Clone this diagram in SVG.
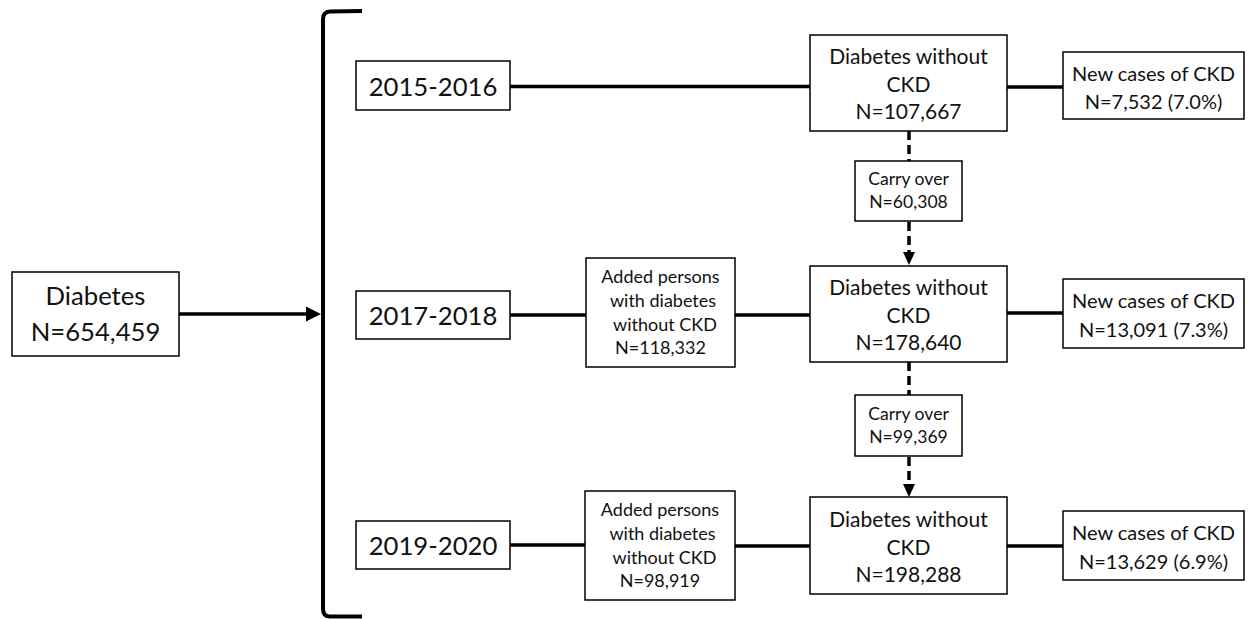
<svg xmlns="http://www.w3.org/2000/svg" width="1248" height="619" viewBox="0 0 1248 619">
<style>
.box{fill:#fff;stroke:#000;stroke-width:1.5}
.t{font-family:Lato,"Open Sans","Liberation Sans",sans-serif;fill:#111;text-anchor:middle}
.big{font-size:25.7px}
.mid{font-size:21px}
.nc{font-size:20px}
.sm{font-size:18px}
.xs{font-size:17.6px}
.ln{stroke:#000;stroke-width:3.5;fill:none}
.dash{stroke:#000;stroke-width:3.5;fill:none;stroke-dasharray:9 5}
.head{fill:#000}
</style>
<rect width="1248" height="619" fill="#fff"/>
<g id="connectors">
<line class="ln" x1="179" y1="314" x2="308" y2="314"/>
<polygon class="head" points="306,306.5 321,314 306,321.5"/>
<path class="ln" style="stroke-width:4" d="M362,11 L330,11.5 Q323,12 323,19 L323,609 Q323,616.5 330,616.5 L362,616.5"/>
<line class="ln" x1="510" y1="86.5" x2="810" y2="86.5"/>
<line class="ln" x1="1007" y1="87" x2="1063" y2="87"/>
<line class="ln" x1="510" y1="315" x2="586" y2="315"/>
<line class="ln" x1="735" y1="315" x2="810" y2="315"/>
<line class="ln" x1="1007" y1="313" x2="1063" y2="313"/>
<line class="ln" x1="510" y1="545" x2="585" y2="545"/>
<line class="ln" x1="735" y1="546" x2="810" y2="546"/>
<line class="ln" x1="1007" y1="546" x2="1063" y2="546"/>
<line class="dash" x1="909" y1="131" x2="909" y2="161"/>
<line class="dash" x1="909" y1="222" x2="909" y2="253"/>
<polygon class="head" points="903,252 909,265 915,252"/>
<line class="dash" x1="909" y1="362" x2="909" y2="395"/>
<line class="dash" x1="909" y1="457" x2="909" y2="485"/>
<polygon class="head" points="903,484 909,497 915,484"/>
</g>
<g id="diabetes">
<rect class="box" x="12" y="272" width="167" height="84"/>
<text class="t big" x="95.5" y="305">Diabetes</text>
<text class="t big" x="95.5" y="341">N=654,459</text>
</g>
<g id="y2015">
<rect class="box" x="356" y="61" width="154" height="49"/>
<text class="t big" x="433" y="96">2015-2016</text>
</g>
<g id="y2017">
<rect class="box" x="356" y="291" width="154" height="48"/>
<text class="t big" x="433" y="325">2017-2018</text>
</g>
<g id="y2019">
<rect class="box" x="356" y="521" width="154" height="48"/>
<text class="t big" x="433" y="555">2019-2020</text>
</g>
<g id="dwo1">
<rect class="box" x="810" y="35" width="197" height="96"/>
<text class="t mid" x="908.5" y="64">Diabetes without</text>
<text class="t mid" x="908.5" y="92">CKD</text>
<text class="t mid" x="908.5" y="119">N=107,667</text>
</g>
<g id="dwo2">
<rect class="box" x="810" y="266" width="197" height="96"/>
<text class="t mid" x="908.5" y="295">Diabetes without</text>
<text class="t mid" x="908.5" y="323">CKD</text>
<text class="t mid" x="908.5" y="350">N=178,640</text>
</g>
<g id="dwo3">
<rect class="box" x="810" y="497" width="197" height="97"/>
<text class="t mid" x="908.5" y="526.5">Diabetes without</text>
<text class="t mid" x="908.5" y="554.5">CKD</text>
<text class="t mid" x="908.5" y="581.5">N=198,288</text>
</g>
<g id="nc1">
<rect class="box" x="1063" y="52" width="181" height="67"/>
<text class="t nc" x="1153.5" y="80.5">New cases of CKD</text>
<text class="t nc" x="1153.5" y="109">N=7,532 (7.0%)</text>
</g>
<g id="nc2">
<rect class="box" x="1063" y="279" width="181" height="69"/>
<text class="t nc" x="1153.5" y="308">New cases of CKD</text>
<text class="t nc" x="1153.5" y="337">N=13,091 (7.3%)</text>
</g>
<g id="nc3">
<rect class="box" x="1063" y="511" width="181" height="69"/>
<text class="t nc" x="1153.5" y="540">New cases of CKD</text>
<text class="t nc" x="1153.5" y="569">N=13,629 (6.9%)</text>
</g>
<g id="carry1">
<rect class="box" x="855" y="161" width="107" height="60"/>
<text class="t xs" x="908.5" y="185">Carry over</text>
<text class="t xs" x="908.5" y="208">N=60,308</text>
</g>
<g id="carry2">
<rect class="box" x="855" y="395" width="107" height="61"/>
<text class="t xs" x="908.5" y="419.5">Carry over</text>
<text class="t xs" x="908.5" y="442.5">N=99,369</text>
</g>
<g id="added1">
<rect class="box" x="586" y="258" width="149" height="109"/>
<text class="t sm" x="660.5" y="283">Added persons</text>
<text class="t sm" x="663" y="307">with diabetes</text>
<text class="t sm" x="665" y="331">without CKD</text>
<text class="t sm" x="660.5" y="354">N=118,332</text>
</g>
<g id="added2">
<rect class="box" x="585" y="491" width="150" height="109"/>
<text class="t sm" x="660" y="516">Added persons</text>
<text class="t sm" x="662.5" y="540">with diabetes</text>
<text class="t sm" x="664.5" y="564">without CKD</text>
<text class="t sm" x="660" y="587">N=98,919</text>
</g>
</svg>
